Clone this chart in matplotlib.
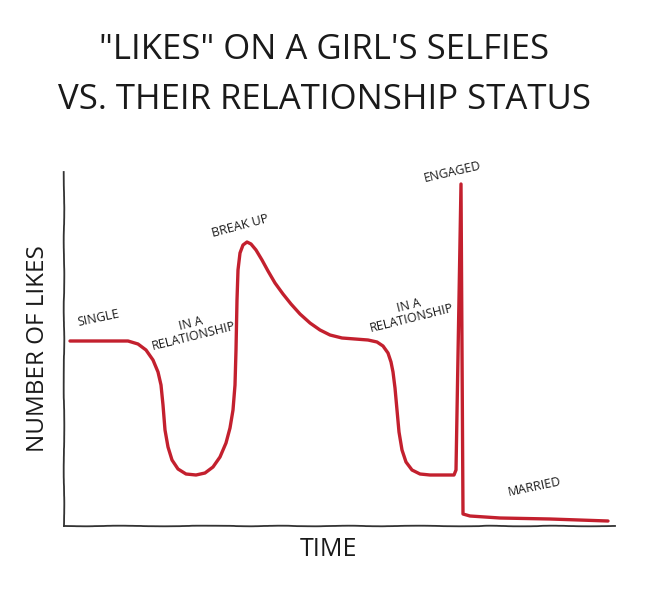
import matplotlib
matplotlib.use("Agg")
import matplotlib.pyplot as plt

# --- data (time vs likes, arbitrary units) ---
time = [6, 36, 64, 74, 82, 89, 94, 97, 99, 101, 104, 108, 114, 122, 132,
        141, 149, 156, 162, 166, 169, 171, 172, 173, 174, 176, 179, 183,
        187, 192, 198, 204, 211, 219, 227, 236, 246, 256, 266, 278, 291,
        304, 313, 319, 324, 327, 329, 331, 333, 335, 338, 342, 348, 356,
        366, 390, 392, 397, 399, 406, 436, 486, 544]
likes = [185, 185, 185, 182, 176, 166, 154, 141, 121, 96, 79, 66, 57, 52, 51,
         53, 59, 69, 83, 98, 116, 141, 176, 226, 256, 273, 281, 284,
         282, 276, 266, 255, 243, 232, 222, 212, 203, 196, 191, 188, 187,
         186, 184, 180, 173, 164, 154, 138, 116, 94, 76, 64, 56, 52,
         51, 51, 56, 342, 12, 10, 8, 7, 5]

# status labels: text, x, y, rotation
labels = ["SINGLE", "IN A\nRELATIONSHIP", "BREAK UP", "IN A\nRELATIONSHIP",
          "ENGAGED", "MARRIED"]
label_x = [34, 128, 176, 346, 388, 471]
label_y = [208, 196, 300, 214, 354, 39]
label_rot = [12, 14, 15, 14, 13, 12]

title_lines = ['"LIKES" ON A GIRL\'S SELFIES', "VS. THEIR RELATIONSHIP STATUS"]

plt.rcParams["font.family"] = ["Open Sans", "DejaVu Sans"]

fig = plt.figure(figsize=(6.48, 6.0), dpi=100)
ax = fig.add_axes([64 / 648, 74 / 600, 551 / 648, 354 / 600])

ax.plot(time, likes, color="#c3202e", lw=2.4, solid_joinstyle="round",
        solid_capstyle="round", zorder=3)

for txt, x, y, r in zip(labels, label_x, label_y, label_rot):
    ax.text(x, y, txt, rotation=r, ha="center", va="center", fontsize=9,
            color="#1a1a1a", linespacing=1.0, rotation_mode="anchor")

ax.set_xlim(0, 551)
ax.set_ylim(0, 354)
ax.set_xticks([])
ax.set_yticks([])
for side in ["top", "right"]:
    ax.spines[side].set_visible(False)
# hand-drawn looking axes
for side in ["left", "bottom"]:
    ax.spines[side].set_color("#333333")
    ax.spines[side].set_linewidth(1.3)
    ax.spines[side].set_sketch_params(scale=0.3, length=150, randomness=8)

ax.set_ylabel("NUMBER OF LIKES", fontsize=17.5, color="#1a1a1a", labelpad=10)
ax.set_xlabel("TIME", fontsize=18, color="#1a1a1a", labelpad=8)
ax.xaxis.label.set_x(265 / 551)

fig.text(0.5, 1 - 50 / 600, title_lines[0], ha="center", va="center",
         fontsize=25, color="#1a1a1a")
fig.text(0.5, 1 - 100 / 600, title_lines[1], ha="center", va="center",
         fontsize=25, color="#1a1a1a")

fig.savefig("out.png", dpi=100, facecolor="white")
